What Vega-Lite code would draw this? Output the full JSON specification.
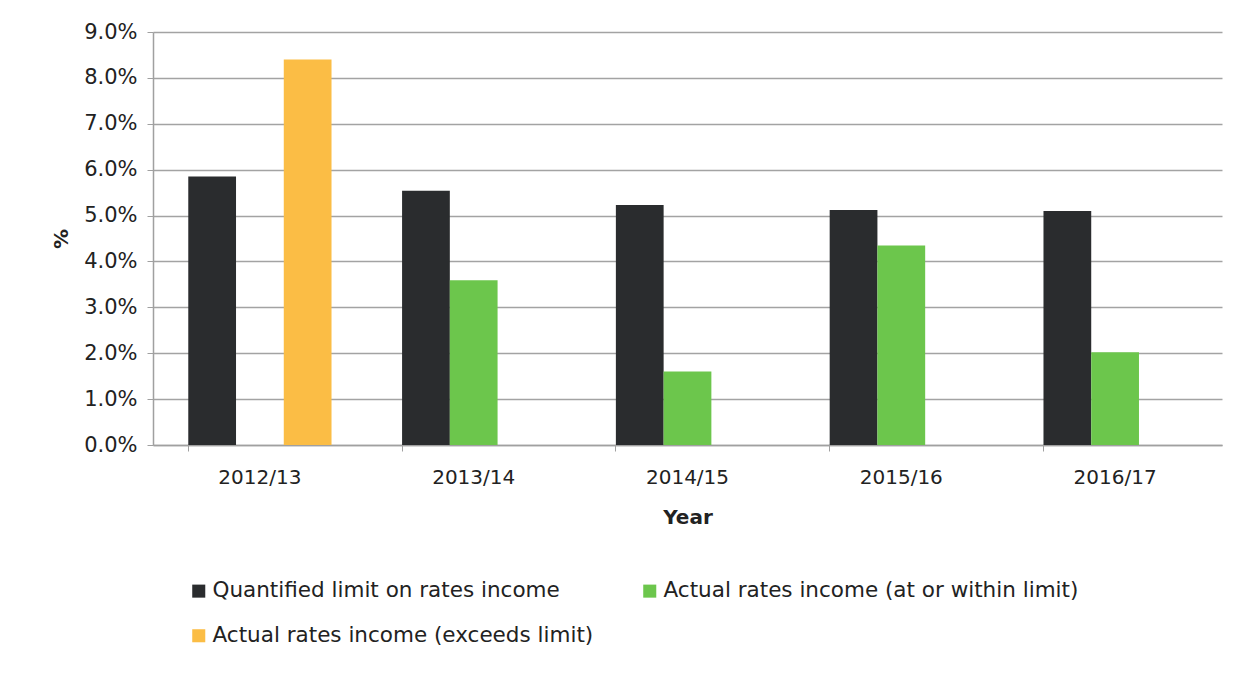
{
  "$schema": "https://vega.github.io/schema/vega-lite/v6.json",
  "width": 1069,
  "height": 413,
  "autosize": {"type": "none"},
  "padding": {"left": 153, "top": 32, "right": 28, "bottom": 234},
  "background": "white",
  "config": {
    "font": "DejaVu Sans",
    "view": {"stroke": null},
    "axis": {"labelFont": "DejaVu Sans", "titleFont": "DejaVu Sans", "labelColor": "#222", "titleColor": "#222"}
  },
  "data": {
    "values": [
      {"year": "2012/13", "series": "Quantified limit on rates income", "value": 0.0585},
      {"year": "2012/13", "series": "Actual rates income (exceeds limit)", "value": 0.0840},
      {"year": "2013/14", "series": "Quantified limit on rates income", "value": 0.0554},
      {"year": "2013/14", "series": "Actual rates income (at or within limit)", "value": 0.0359},
      {"year": "2014/15", "series": "Quantified limit on rates income", "value": 0.0523},
      {"year": "2014/15", "series": "Actual rates income (at or within limit)", "value": 0.0160},
      {"year": "2015/16", "series": "Quantified limit on rates income", "value": 0.0512},
      {"year": "2015/16", "series": "Actual rates income (at or within limit)", "value": 0.0435},
      {"year": "2016/17", "series": "Quantified limit on rates income", "value": 0.0510},
      {"year": "2016/17", "series": "Actual rates income (at or within limit)", "value": 0.0202}
    ]
  },
  "mark": {"type": "bar"},
  "encoding": {
    "x": {
      "field": "year",
      "type": "nominal",
      "sort": null,
      "scale": {"paddingInner": 0.33, "paddingOuter": 0.165},
      "axis": {
        "title": "Year",
        "titleFontSize": 20,
        "titleFontWeight": "bold",
        "titlePadding": 20,
        "labelAngle": 0,
        "labelFontSize": 20,
        "labelPadding": 16,
        "bandPosition": 0,
        "domainColor": "#a0a0a0",
        "domainWidth": 1.5,
        "tickColor": "#a0a0a0",
        "tickSize": 6,
        "grid": false
      }
    },
    "xOffset": {
      "field": "series",
      "type": "nominal",
      "sort": ["Quantified limit on rates income", "Actual rates income (at or within limit)", "Actual rates income (exceeds limit)"],
      "scale": {"domain": ["Quantified limit on rates income", "Actual rates income (at or within limit)", "Actual rates income (exceeds limit)"], "paddingInner": 0, "paddingOuter": 0}
    },
    "y": {
      "field": "value",
      "type": "quantitative",
      "scale": {"domain": [0, 0.09], "nice": false},
      "axis": {
        "title": "%",
        "titleFontSize": 20,
        "titleFontWeight": "bold",
        "titlePadding": 12,
        "format": ".1%",
        "values": [0, 0.01, 0.02, 0.03, 0.04, 0.05, 0.06, 0.07, 0.08, 0.09],
        "labelFontSize": 21,
        "labelPadding": 10,
        "domainColor": "#a0a0a0",
        "domainWidth": 1.5,
        "tickColor": "#a0a0a0",
        "tickSize": 6,
        "gridColor": "#a3a3a3",
        "gridWidth": 1.5
      }
    },
    "color": {
      "field": "series",
      "type": "nominal",
      "scale": {
        "domain": ["Quantified limit on rates income", "Actual rates income (at or within limit)", "Actual rates income (exceeds limit)"],
        "range": ["#2a2c2e", "#6cc64c", "#fbbd45"]
      },
      "legend": {
        "title": null,
        "orient": "none",
        "legendX": 35,
        "legendY": 548,
        "direction": "horizontal",
        "columns": 2,
        "columnPadding": 45,
        "rowPadding": 22,
        "symbolType": "square",
        "symbolSize": 170,
        "symbolStrokeWidth": 0,
        "labelFontSize": 21.5,
        "labelColor": "#222",
        "labelFont": "DejaVu Sans",
        "labelLimit": 700,
        "labelOffset": 3
      }
    }
  }
}
